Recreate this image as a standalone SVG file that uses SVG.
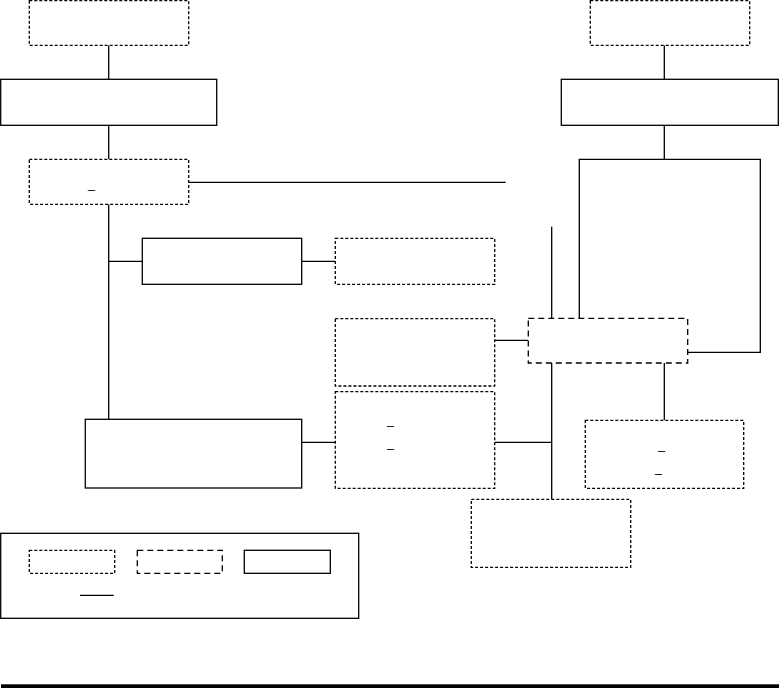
<svg xmlns="http://www.w3.org/2000/svg" width="779" height="688" viewBox="0 0 779 688">
<style>
.n{fill:#fff;stroke:#000;stroke-width:1.3}
.dot{stroke-dasharray:3,2}
.dash{stroke-dasharray:6,4}
.e{fill:none;stroke:#000;stroke-width:1.3}
.u{font-family:"Liberation Sans",Arial,sans-serif;font-size:12.5px;fill:#000}
</style>
<rect width="779" height="688" fill="#fff"/>
<g id="connectors">
<path class="e" d="M108.7,45.3V79.3M108.7,125.3V159.3M108.7,204.3V419.3M108.7,261.3H142.3M301.7,261.3H335.3M188.7,182.3H505.7M301.7,442.3H335.3M494.7,442.3H551.7M494.7,340.3H528.3M551.7,226.7V318.3M551.7,363V499.3M664.3,363V420.3M664.3,45.3V79.3M664.3,125.3V159.3M579.3,318.3V159.3H760.3V352.3H687.7"/>
</g>
<g id="n1"><rect class="n dot" x="29.3" y="0.7" width="159.4" height="44.6"/></g>
<g id="n2"><rect class="n" x="0.7" y="79.3" width="216" height="46"/></g>
<g id="n3"><rect class="n dot" x="29.3" y="159.3" width="159.4" height="45"/><text class="u" x="88" y="188">_</text></g>
<g id="n4"><rect class="n" x="142.3" y="238.3" width="159.4" height="46"/></g>
<g id="n5"><rect class="n dot" x="335.3" y="238.3" width="159.4" height="46"/></g>
<g id="n6"><rect class="n dot" x="335.3" y="318.7" width="159.4" height="67.3"/></g>
<g id="n7"><rect class="n dot" x="335.3" y="391.7" width="159.4" height="96.6"/><text class="u" x="387" y="424">_</text><text class="u" x="387" y="447">_</text></g>
<g id="n8"><rect class="n" x="85.3" y="419.3" width="216.4" height="68.7"/></g>
<g id="n9"><rect class="n dot" x="590.3" y="0.7" width="159.4" height="44.6"/></g>
<g id="n10"><rect class="n" x="561.3" y="79.3" width="217" height="46"/></g>
<g id="n11"><rect class="n dash" x="528.3" y="318.3" width="159.4" height="44.7"/></g>
<g id="n12"><rect class="n dot" x="585.3" y="420.3" width="158.4" height="68"/><text class="u" x="658" y="449">_</text><text class="u" x="655" y="472">_</text></g>
<g id="n13"><rect class="n dot" x="471.3" y="499.3" width="159.4" height="68"/></g>
<g id="legend">
<rect class="n" x="0.7" y="533.3" width="358" height="85"/>
<rect class="n dot" x="29.3" y="550.3" width="85.4" height="23"/>
<rect class="n dash" x="137.3" y="550.3" width="85" height="23"/>
<rect class="n" x="244.3" y="550.3" width="86" height="23"/>
<line class="e" x1="80" y1="595.3" x2="113.7" y2="595.3"/>
</g>
<rect x="1" y="684.3" width="778" height="3.7" fill="#000"/>
</svg>
